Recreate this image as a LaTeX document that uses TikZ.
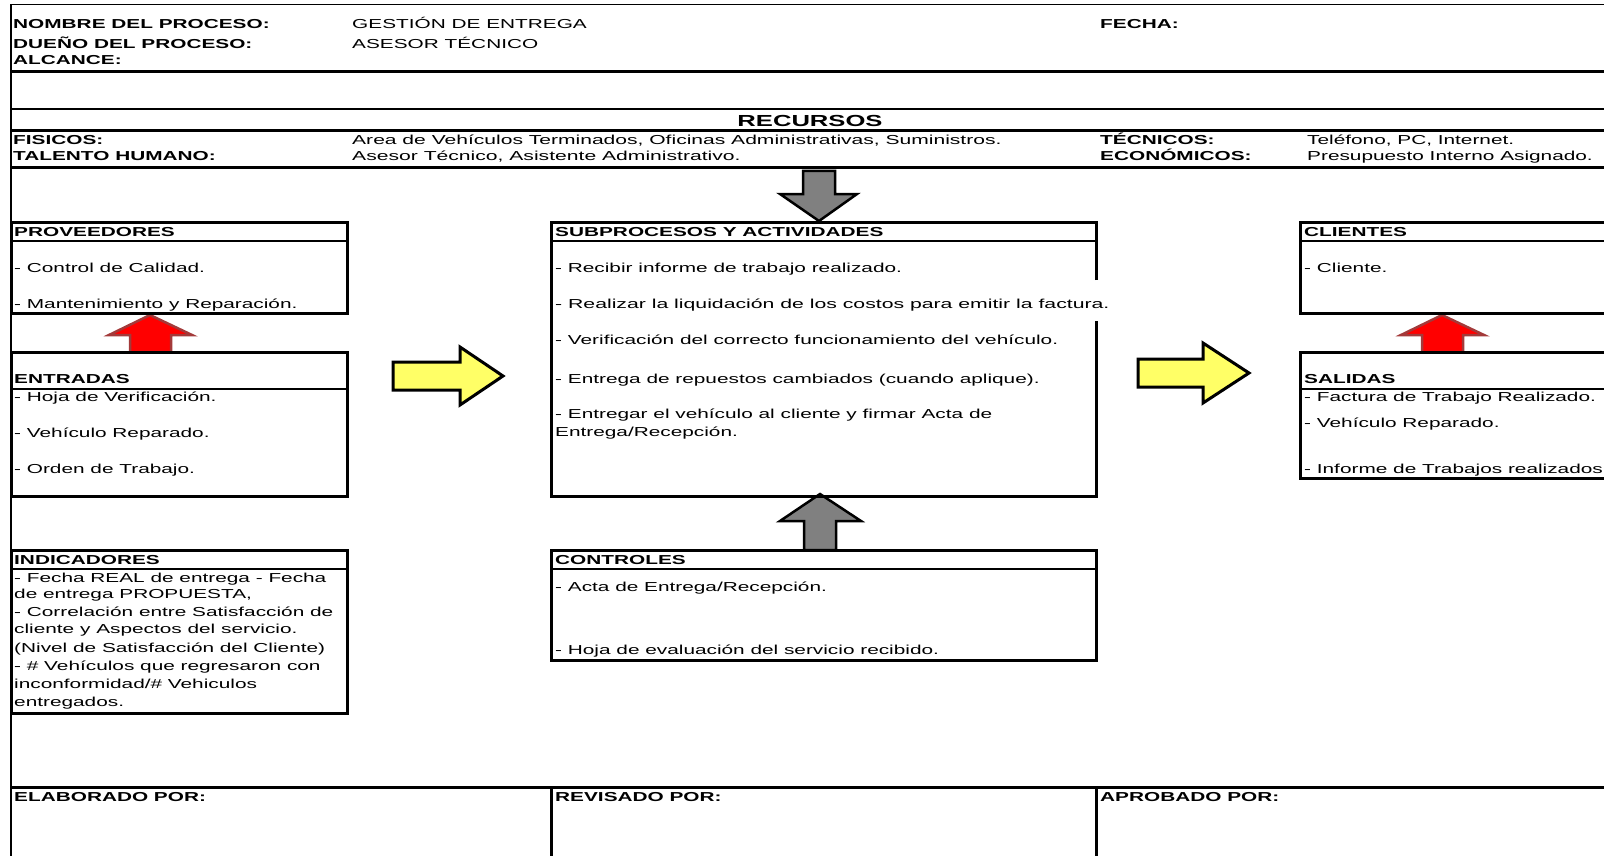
\documentclass[tikz,border=0pt]{standalone}
\usepackage{fontspec}
\setmainfont{Liberation Sans}[FakeStretch=1.6]

\definecolor{arrowyellow}{HTML}{FFFF66}
\definecolor{arrowred}{HTML}{A33A3A}
\definecolor{arrowgray}{HTML}{808080}

\tikzset{
  txt/.style={anchor=west, inner sep=0pt, text height=9.3pt, text depth=0pt,
    font=\fontsize{13}{15}\selectfont},
  hd/.style={txt, font=\fontsize{13}{15}\selectfont\bfseries},
  boxline/.style={line width=3pt},
  rule/.style={line width=1.8pt},
  yarrow/.style={draw=black, line width=3pt, fill=arrowyellow},
  rarrow/.style={draw=arrowred, line width=2.5pt, fill=red},
  garrow/.style={draw=black, line width=2.5pt, fill=arrowgray},
}

\begin{document}
\begin{tikzpicture}[x=1pt, y=-1pt]
  \useasboundingbox (0,0) rectangle (1604,856);

  % Block arrows (under the boxes)
  \draw[rarrow] (130,352) -- (130,335) -- (109,335) -- (150,315) -- (192,335) -- (171,335) -- (171,352) -- cycle;
  \draw[rarrow] (1422,352) -- (1422,335) -- (1401,335) -- (1442,315) -- (1484,335) -- (1463,335) -- (1463,352) -- cycle;
  \draw[yarrow] (393,362) -- (460,362) -- (460,347) -- (503,376) -- (460,405) -- (460,390) -- (393,390) -- cycle;
  \draw[yarrow] (1138,359) -- (1203,359) -- (1203,343) -- (1249,373) -- (1203,403) -- (1203,387) -- (1138,387) -- cycle;
  \draw[garrow] (803,171) -- (835,171) -- (835,194) -- (857,194) -- (819,221) -- (780,194) -- (803,194) -- cycle;
  \draw[garrow] (804,550) -- (804,521) -- (780,521) -- (820,494) -- (861,521) -- (836,521) -- (836,550) -- cycle;

  % Outer frame and the full-width rules
  \draw[rule] (11,856) -- (11,4.5) -- (1604,4.5);
  \draw[rule] (11,109) -- (1604,109);
  \foreach \y in {72,131,168,787}
    \draw[boxline] (11,\y) -- (1604,\y);
  \draw[boxline] (551,787) -- (551,856);
  \draw[boxline] (1096,787) -- (1096,856);

  % Boxes with their header rows
  \draw[boxline] (11,222) rectangle (347,313);
  \draw[rule] (11,241) -- (347,241);
  \draw[boxline] (11,352) rectangle (347,496);
  \draw[rule] (11,389) -- (347,389);
  \draw[boxline] (1096,280) -- (1096,222) -- (551,222) -- (551,496) -- (1096,496) -- (1096,321);
  \draw[rule] (551,241) -- (1096,241);
  \draw[boxline] (1604,222) -- (1300,222) -- (1300,313) -- (1604,313);
  \draw[rule] (1300,241) -- (1604,241);
  \draw[boxline] (1604,352) -- (1300,352) -- (1300,478) -- (1604,478);
  \draw[rule] (1300,389) -- (1604,389);
  \draw[boxline] (11,550) rectangle (347,713);
  \draw[rule] (11,569) -- (347,569);
  \draw[boxline] (551,550) rectangle (1096,660);
  \draw[rule] (551,569) -- (1096,569);

  % Process heading
  \node[hd] (nombre) at (13,23.5) {NOMBRE DEL PROCESO:};
  \node[hd] (dueno) at (13,44) {DUEÑO DEL PROCESO:};
  \node[hd] (alcance) at (13,60) {ALCANCE:};
  \node[txt] (proceso) at (352,23.5) {GESTIÓN DE ENTREGA};
  \node[txt] (asesor) at (352,44) {ASESOR TÉCNICO};
  \node[hd] (fecha) at (1100,23.5) {FECHA:};

  % Resources
  \node[hd, anchor=center, font=\fontsize{16}{18}\selectfont\bfseries] (recursos) at (810,122) {RECURSOS};
  \node[hd] (fisicos) at (13,140) {FISICOS:};
  \node[hd] (talento) at (13,155.5) {TALENTO HUMANO:};
  \node[txt] (fisicos-v) at (352,140) {\scalebox{1.012}[1]{Area de Vehículos Terminados, Oficinas Administrativas, Suministros.}};
  \node[txt] (talento-v) at (352,155.5) {\scalebox{1.015}[1]{Asesor Técnico, Asistente Administrativo.}};
  \node[hd] (tecnicos) at (1100,140) {TÉCNICOS:};
  \node[hd] (economicos) at (1100,155.5) {ECONÓMICOS:};
  \node[txt] (tecnicos-v) at (1307,140) {Teléfono, PC, Internet.};
  \node[txt] (economicos-v) at (1307,155.5) {Presupuesto Interno Asignado.};

  % Box headers
  \node[hd] (prov) at (14,231.5) {PROVEEDORES};
  \node[hd] (subp) at (555,231.5) {SUBPROCESOS Y ACTIVIDADES};
  \node[hd] (clie) at (1304,231.5) {CLIENTES};
  \node[hd] (entr) at (14,378.5) {ENTRADAS};
  \node[hd] (sali) at (1304,379) {SALIDAS};
  \node[hd] (indi) at (14,559.5) {INDICADORES};
  \node[hd] (cont) at (555,559.5) {CONTROLES};

  % Box contents
  \foreach \y/\t [count=\i] in {268/{- Control de Calidad.}, 304/{- Mantenimiento y Reparación.}}
    \node[txt] (prov-\i) at (14,\y) {\t};
  \foreach \y/\t [count=\i] in {268/{- Recibir informe de trabajo realizado.},
      304/{\scalebox{1.02}[1]{- Realizar la liquidación de los costos para emitir la factura.}},
      340/{- Verificación del correcto funcionamiento del vehículo.},
      378.5/{- Entrega de repuestos cambiados (cuando aplique).},
      414/{- Entregar el vehículo al cliente y firmar Acta de},
      432/{Entrega/Recepción.}}
    \node[txt] (subp-\i) at (555,\y) {\t};
  \node[txt] (clie-1) at (1304,268) {- Cliente.};
  \foreach \y/\t [count=\i] in {397/{- Hoja de Verificación.}, 433/{- Vehículo Reparado.}, 468.5/{- Orden de Trabajo.}}
    \node[txt] (entr-\i) at (14,\y) {\t};
  \foreach \y/\t [count=\i] in {397/{- Factura de Trabajo Realizado.}, 422.5/{- Vehículo Reparado.}, 468.5/{- Informe de Trabajos realizados}}
    \node[txt] (sali-\i) at (1304,\y) {\t};
  \foreach \y/\t [count=\i] in {578/{- Fecha REAL de entrega - Fecha},
      593.5/{de entrega PROPUESTA,},
      612/{- Correlación entre Satisfacción de},
      629/{cliente y Aspectos del servicio.},
      647.5/{(Nivel de Satisfacción del Cliente)},
      666/{- \# Vehículos que regresaron con},
      684/{inconformidad/\# Vehiculos},
      702/{entregados.}}
    \node[txt] (indi-\i) at (14,\y) {\t};
  \node[txt] (cont-1) at (555,587) {- Acta de Entrega/Recepción.};
  \node[txt] (cont-2) at (555,650) {- Hoja de evaluación del servicio recibido.};

  % Signatures
  \node[hd] (elab) at (14,797) {ELABORADO POR:};
  \node[hd] (revi) at (555,797) {REVISADO POR:};
  \node[hd] (apro) at (1100,797) {APROBADO POR:};
\end{tikzpicture}
\end{document}
